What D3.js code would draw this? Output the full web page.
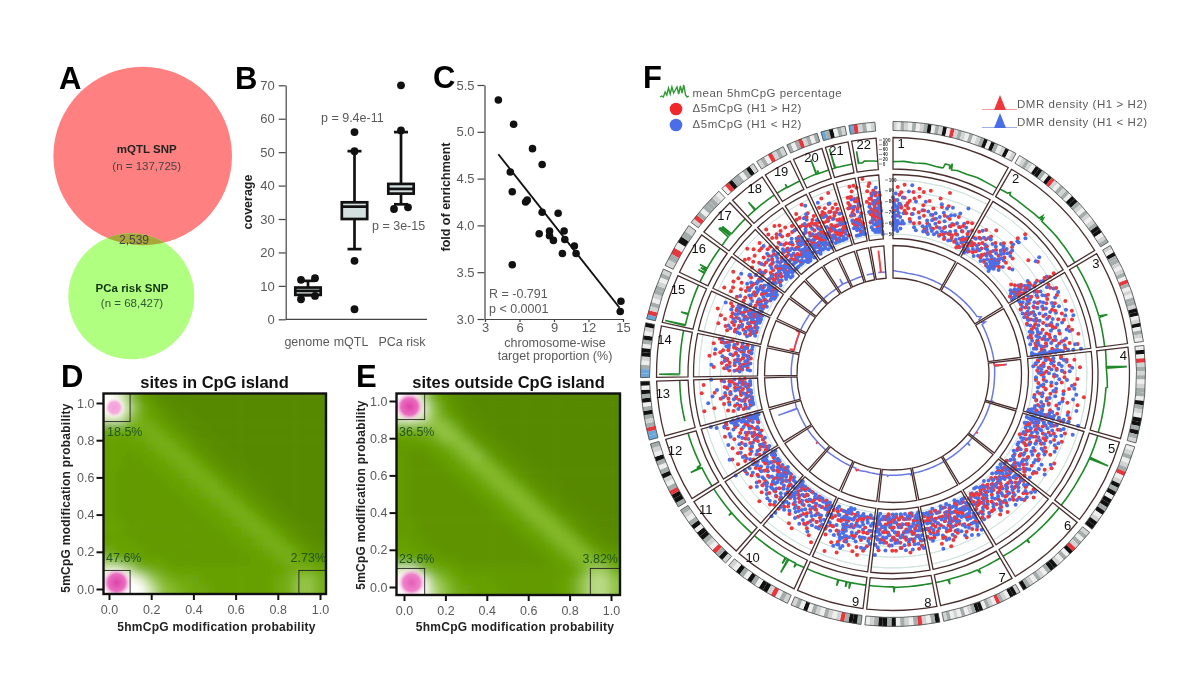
<!DOCTYPE html>
<html><head><meta charset="utf-8">
<style>html,body{margin:0;padding:0;background:#fff}svg{display:block;filter:blur(.4px);font-family:"Liberation Sans",Arial,sans-serif}</style>
<script src="https://cdnjs.cloudflare.com/ajax/libs/d3/7.8.5/d3.min.js"></script>
</head><body><svg id="c" width="1200" height="675"></svg>
<script>
// ---------- panel A ----------
const vennLabels=["mQTL SNP","(n = 137,725)","2,539","PCa risk SNP","(n = 68,427)"];
// ---------- panel B ----------
const boxCategories=["genome","mQTL","PCa risk"];
const boxQ1=[7.3,30,37.6], boxMedian=[8.5,33.7,39], boxQ3=[9.5,35,40.5], boxLow=[7.2,21,34.4], boxHigh=[11.5,50.3,56];
const boxOutliers=[[[11.8,-1],[12.3,1],[6,-1],[7,1]],[[56,0],[50.3,0],[17.5,0],[3,0]],[[70,0],[56.5,0],[33,-1],[33.5,1]]];
const boxTicks=[0,10,20,30,40,50,60,70];
// ---------- panel C ----------
const enrichX=[4.16,5.49,7.13,7.97,5.2,5.37,6.53,6.67,7.97,9.36,7.71,8.61,8.61,8.95,9.88,9.94,10.77,9.73,10.92,5.37,14.82,14.76];
const enrichY=[5.34,5.08,4.82,4.65,4.57,4.36,4.25,4.27,4.14,4.13,3.91,3.94,3.89,3.84,3.94,3.85,3.78,3.7,3.7,3.58,3.19,3.08];
const fitX=[4.16,14.7], fitY=[4.76,3.12];
// ---------- panels D / E : density levels, rows from 5mC = 1.0 down to 0.0 ----------
const densityD=[
[8,7,5,3,2,1,1,0,0,0,0,0,0,0,0,0,0,0,0,0,0],
[8,8,6,4,3,2,1,1,0,0,0,0,0,0,0,0,0,0,0,0,0],
[7,7,5,4,3,2.5,1.5,1,1,0,0,0,0,0,0,0,0,0,0,0,0],
[4,4,4,4,4,3,2.5,1.5,1,1,0,0,0,0,0,0,0,0,0,0,0],
[3,3,3,3.5,4,4,3,2.5,1.5,1,1,0,0,0,0,0,0,0,0,0,0],
[3,3,3,3,3.5,4,4,3,2,1.5,1,1,0,0,0,0,0,0,0,0,0],
[3,3,2.5,3,3,3.5,4,4,3,2,1.5,1,1,0,0,0,0,0,0,0,0],
[3,3,2.5,2.5,3,3,3.5,4,4,3,2,1.5,1,1,0,0,0,0,0,0,0],
[3,2.5,2.5,2.5,2.5,3,3,3.5,4,4,3,2,1.5,1,1,0,0,0,0,0,0],
[3,2.5,2.5,2.5,2.5,2.5,3,3,3.5,4,4,3,2,1.5,1,1,0,0,0,0,0],
[3,2.5,2.5,2.5,2.5,2.5,2.5,3,3,3.5,4,4,3,2,1.5,1,0,0,0,0,0],
[3,2.5,2.5,2.5,2.5,2.5,2.5,2.5,3,3,3.5,4,4,3,2,1.5,1,0,0,0,0],
[3,2.5,2.5,2.5,2.5,2.5,2.5,2.5,2.5,3,3,3.5,4,4,3,2,1.5,1,0,0,0],
[3,3,2.5,2.5,2.5,2.5,2.5,2.5,2.5,2.5,3,3,3.5,4,4,3,2,1.5,1,0,0],
[3,3,2.5,2.5,2.5,2.5,2.5,2.5,2.5,2.5,2.5,3,3,3.5,4,4,3,2,1.5,1,0],
[3,3,3,2.5,2.5,2.5,2.5,2.5,2.5,2.5,2.5,2.5,3,3,3.5,4,4,3,2,1.5,1],
[3.5,3,3,3,2.5,2.5,2.5,2.5,2.5,2.5,2.5,2.5,2.5,3,3,3.5,4,4,3,2,1.5],
[5,4,3.5,3,3,3,2.5,2.5,2.5,2.5,2.5,2.5,2.5,2.5,3,3,3.5,4,3.5,3,2.5],
[7,7,6,4.5,4,3.5,3,3,3,3,3,3,3,3,3,3,3,3.5,4,4,3.5],
[8,8,8,7,5.5,4.5,4,3.5,3.5,3,3,3,3,3,3,3,3.5,4,5,5,4],
[8,8,8,8,6.5,5,4.5,4,3.5,3.5,3,3,3,3,3,3,3.5,4,5,5,4]];
const densityE=[
[8,8,6,4,2.5,1.5,1,0,0,0,0,0,0,0,0,0,0,0,0,0,0],
[8,8,7,5,3,2,1,1,0,0,0,0,0,0,0,0,0,0,0,0,0],
[7,7,6.5,5,4,2.5,1.5,1,0.5,0,0,0,0,0,0,0,0,0,0,0,0],
[4.5,4.5,4.5,5,5,4,2,1.5,1,0.5,0,0,0,0,0,0,0,0,0,0,0],
[3,3,3.5,4,5,5,3.5,2,1.5,1,0.5,0,0,0,0,0,0,0,0,0,0],
[2.5,2.5,2.5,3,3.5,4.5,5,3.5,2,1.5,1,0.5,0,0,0,0,0,0,0,0,0],
[2.5,2,2,2.5,3,3.5,4.5,5,3.5,2,1.5,1,0.5,0,0,0,0,0,0,0,0],
[2.5,2,2,2,2.5,3,3.5,4.5,4.5,3.5,2,1.5,1,0.5,0,0,0,0,0,0,0],
[2.5,2,2,2,2,2.5,3,3.5,4.5,4.5,3.5,2,1.5,1,0.5,0,0,0,0,0,0],
[2.5,2,2,2,2,2,2.5,3,3.5,4.5,4.5,3.5,2,1.5,1,0.5,0,0,0,0,0],
[2.5,2,2,2,2,2,2,2.5,3,3.5,4.5,4.5,3.5,2,1.5,1,0.5,0,0,0,0],
[2.5,2,2,2,2,2,2,2,2.5,3,3.5,4.5,4.5,3.5,2,1.5,1,0.5,0,0,0],
[2.5,2,2,2,2,2,2,2,2,2.5,3,3.5,4.5,4.5,3.5,2,1.5,1,0.5,0,0],
[2.5,2.5,2,2,2,2,2,2,2,2,2.5,3,3.5,4.5,4.5,3.5,2,1.5,1,0.5,0],
[2.5,2.5,2,2,2,2,2,2,2,2,2,2.5,3,3.5,4.5,4.5,3.5,2,1.5,1,0.5],
[3,2.5,2.5,2,2,2,2,2,2,2,2,2,2.5,3,3.5,4.5,4.5,3.5,2,1.5,1],
[3,3,2.5,2.5,2,2,2,2,2,2,2,2,2,2.5,3,3.5,4.5,4.5,3.5,2.5,2],
[4,3.5,3,3,2.5,2.5,2,2,2,2,2,2,2,2,2.5,3,3.5,4.5,4.5,3.5,3],
[7,7,5,4,3.5,3,2.5,2.5,2.5,2.5,2.5,2.5,2.5,2.5,2.5,2.5,3,4,5.5,5.5,4],
[8,8,8,5.5,4.5,3.5,3,3,3,2.5,2.5,2.5,2.5,2.5,2.5,3,3.5,5,6,6,5],
[8,8,8,6,5,4,3.5,3,3,3,2.5,2.5,2.5,2.5,2.5,3,3.5,5,6,6,5]];
const levelStops=[0,1,2,3,4,5,6,7,8];
const levelColors=["#568800","#598c00","#5e9400","#66a004","#76af12","#93c344","#b9d984","#e6f2cf","#ffffff"];
// hot spots [x, y, radius, strength 0-1]
const spotsD=[[0.025,0.975,0.05,0.45],[0.036,0.034,0.075,1]];
const spotsE=[[0.026,0.97,0.075,1],[0.037,0.023,0.075,0.85]];
const pctD=["18.5%","47.6%","2.73%"], pctE=["36.5%","23.6%","3.82%"];
const probTicks=[0,0.2,0.4,0.6,0.8,1];
// ---------- panel F ----------
const chrNames=["1","2","3","4","5","6","7","8","9","10","11","12","13","14","15","16","17","18","19","20","21","22"];
const chrLengths=[249,243,198,191,181,171,159,146,141,136,135,134,115,107,102,90,81,78,59,63,48,51];
const chrBands=["lwglwgwlgkwglkwrlglwgwlgkwkgwlkwl","wlglwkkgwkrlwglgwkkglwglwlgkkwlg","lwkgglwlgwrgwlwgglkkwlkwglw","wkwrlglgwlggwkglwkkgkgl","wlgwlgrwlkgkwkkgkwlkk","lgwglrkwgwlkkgwlgwlgk","lkkwlgrwlgwkkglwgwlwgl","kgwlrgwlgwkgkkglw","gkkgrlwlgwlgwkwgl","lgwrlkkwgkwgkwl","lkgrwlgkkwkgwlg","gkkrgwlkgwgkwlg","bbrglgkgwkgkwk","bbgwlkkwgkwlk","brlgwlgglwgl","lgrwkgl","lrgwggglw","wrkggwgkl","lgwrlgl","gwgrlgwg","bgkwgl","brlgwl"];
const bandCodes=["w","l","g","k","r","b"], bandFills=["#eeeeee","#d2d4d4","#a4acac","#111111","#e8363c","#6aa6d8"];
const greenTrack=[
[0,10,10,12,20,9,30,12,40,8,46,8,47,10,48,27,52,27,53,10,54,36,55,9,60,14,70,12,80,15,90,13,100,12],
[0,15,8,17,10,26,11,15,30,13,40,15,46,15,47,32,48,17,49,28,50,13,70,15,100,13],
[0,14,30,15,64,16,65,52,66,16,100,14],
[0,16,20,14,21,100,22,14,45,20,46,14,100,14],
[0,16,29,16,30,100,31,16,60,14,100,14],
[0,14,60,14,61,30,62,14,100,12],
[0,12,34,14,35,28,36,24,37,14,80,12,81,32,82,12,100,12],
[0,12,60,14,61,35,62,12,100,12],
[0,12,25,12,26,38,27,12,31,12,32,34,33,12,45,12,46,38,47,12,100,12],
[0,12,14,14,15,30,16,12,29,12,30,75,31,12,34,12,35,40,36,12,100,12],
[0,12,48,12,49,28,50,12,100,12],
[0,12,36,12,37,62,38,16,40,30,41,12,100,14],
[18,14,60,15,100,14],
[5,14,6,100,7,14,60,15,100,16],
[4,14,5,100,6,14,30,14,31,45,32,14,100,16],
[0,16,25,16,26,45,27,16,32,16,33,40,34,30,35,16,38,18,39,50,40,16,100,16],
[0,16,30,18,31,68,35,68,36,18,38,18,39,62,42,62,43,16,100,18],
[0,18,28,18,29,60,30,40,31,18,100,20],
[0,20,44,20,45,34,46,18,100,18],
[0,16,52,18,53,82,54,16,60,16,61,30,62,16,100,16],
[0,16,14,16,15,100,16,40,18,18,40,16,100,16],
[10,14,12,14,13,65,14,16,30,14,40,20,100,14]];
const dmrBlue=[
[0,16,10,13,30,10,60,10,100,9],[0,9,50,9,90,10,95,22,97,10,100,9],[0,10,5,25,7,10,50,9,100,10],
[0,9,7,10,8,55,9,10,50,9,96,10,97,14,98,9,100,9],[0,9,50,9,85,9,100,9],[0,9,19,10,20,22,21,9,100,8],
[0,8,50,8,100,8],[0,8,4,12,5,8,75,8,80,12,81,8,100,8],[0,8,50,8,85,13,86,8,100,8],[0,8,50,8,100,9],
[0,9,50,9,100,10],[0,10,75,10,76,82,77,12,100,10],[0,10,50,10,100,10],[0,10,60,10,100,10],
[0,10,7,18,9,10,60,10,100,12],[0,12,50,12,100,12],[0,12,50,12,100,12],[0,12,50,12,100,12],
[0,12,48,14,50,35,52,14,100,12],[0,12,50,12,100,12],[30,12,60,12,100,12],[30,12,55,14,70,12,100,12]];
const dmrRed=[
[],[],[],[0,9,7,10,8,50,9,10],[85,9,86,16,87,9],[],[],[],[75,8,80,14,81,8],[],[39,9,40,17,41,9],[],[],[],
[5,10,8,26,10,10,95,12,98,28,100,12],[],[],[],[],[],[],[50,12,54,12,55,90,56,88,57,12,60,12]];
const rangeTicksGreen=[0,20,40,60,80,100], rangeTicksScatter=[50,60,70,80,90,100];
const red5mC=[
[1,62,2,78,3,70,5,88,6,66,8,75,9,84,10,72,12,90,13,80,14,70,15,74,16,68,18,72,19,78,21,64,22,85,24,80,25,72,27,61,29,82,31,70,33,86,35,76,38,68,40,88,42,58,44,63,47,75,48,70,50,67,53,60,56,78,58,66,60,90,62,72,64,57,66,63,69,71,71,55,74,60,76,68,78,75,80,58,83,62,85,56,87,70,89,66,91,53,93,60,95,75,97,62,98,57,99,70,4,66,7,82,11,60,17,76,23,68,28,88,34,62,37,72,41,80,46,56,52,84,57,62,63,80,68,58,73,66,79,60,84,68,90,74,94,54,96,66],
[0,54,1,58,2,66,3,62,4,72,5,60,6,55,8,68,10,76,12,64,14,58,16,70,18,62,20,80,22,66,24,56,26,60,28,72,30,64,32,55,34,68,36,76,38,60,40,58,41,66,42,72,43,62,44,86,45,56,46,78,47,92,48,68,52,60,56,72,62,65,70,80,78,85,80,58,84,60,88,64,90,56,92,70,94,60,95,76,96,66,97,82,98,72,99,86,7,62,11,56,15,66,19,74,23,58,33,62,37,54,39,70,42,80,45,64,47,58,49,74,54,66,90,62,93,52,95,66,97,58,98,90,99,62],
[2,60,4,72,6,66,8,82,9,56,11,70,13,62,15,78,17,58,19,68,21,84,23,64,25,74,27,56,29,60,31,70,33,88,35,62,37,76,39,58,41,68,43,54,45,72,47,82,49,60,51,66,53,78,55,56,57,70,59,88,61,64,63,74,65,60,67,84,69,54,71,68,73,76,75,62,77,58,79,90,81,70,83,64,85,56,87,74,89,82,91,60,93,68,95,78,97,58,99,66,3,82,7,62,12,86,16,54,20,76,26,66,30,80,34,56,40,78,44,62,48,90,52,58,56,82,60,72,64,54,68,66,72,86,76,68,80,56,84,78,88,62,92,88,96,72],
[1,62,3,74,5,56,7,66,9,84,11,60,13,72,15,58,17,80,19,64,21,70,23,55,25,62,27,76,30,58,33,68,36,86,39,60,42,74,45,56,48,66,51,80,54,62,57,70,60,92,63,58,66,76,69,64,72,88,75,56,78,72,81,62,84,82,87,68,90,74,93,58,96,66,99,78,4,64,8,78,12,54,16,68,20,88,24,74,28,60,34,76,38,54,44,84,50,60,55,76,61,66,67,54,71,80,77,66,83,58,89,62,92,84,95,52,98,70],
[3,70,6,60,9,78,12,66,15,56,18,72,21,62,24,84,27,58,30,70,33,64,35,60,37,56,39,66,41,52,43,74,46,62,49,80,52,58,55,68,58,86,61,62,64,74,67,56,70,66,73,82,76,60,79,72,82,56,85,66,88,76,91,60,94,70,97,54,2,64,5,74,8,56,11,84,14,62,17,76,20,54,23,68,26,78,29,56,32,72,36,82,40,70,44,58,48,76,54,60,60,72,66,86,72,60,78,64,84,78,90,68,96,62,99,72],
[0,62,2,74,3,84,5,56,7,68,8,78,10,62,12,88,13,70,15,56,17,66,18,80,20,60,22,72,24,54,25,84,27,66,29,74,31,58,33,62,35,70,37,78,39,54,41,64,43,72,45,58,47,66,49,76,51,62,53,56,55,70,57,82,59,64,61,54,63,72,65,60,67,68,69,80,71,56,73,66,75,62,77,74,79,58,81,68,83,56,85,62,87,76,89,64,91,54,93,70,95,60,97,66,99,56,1,70,4,60,6,78,9,72,11,56,14,82,16,62,19,72,21,54,23,66,26,58,28,80,30,68,32,56,34,76,36,64,38,60,40,72,44,66,48,60,52,74,56,58,60,76,64,56,68,62,72,74,76,58,80,70,84,64,88,56,92,64,96,74],
[2,62,5,74,8,56,11,68,14,60,17,78,20,64,23,56,26,72,29,62,32,82,35,66,38,56,41,70,44,60,46,74,48,64,50,78,52,58,54,68,56,72,59,60,62,84,65,56,68,66,71,76,74,60,77,70,80,54,83,64,86,74,89,58,92,68,95,60,98,72,1,70,4,60,7,66,10,80,13,56,16,68,19,74,22,62,25,54,28,78,31,60,34,70,37,64,40,56,43,76,45,66,47,58,49,62,51,70,53,54,55,80,58,64,61,72,64,60,67,76,70,54,73,64,76,80,79,66,82,58,85,70,88,60,91,74,94,66,97,56],
[1,66,4,56,7,74,10,62,13,80,16,58,19,68,22,52,25,72,28,60,31,76,34,64,37,56,40,70,43,60,46,78,49,56,52,66,55,54,58,72,61,62,64,80,67,58,70,68,73,52,76,74,79,60,82,66,85,56,88,72,91,64,94,58,97,76,99,62,3,60,6,78,9,58,12,70,15,64,18,54,21,74,24,66,27,56,30,82,33,60,36,72,39,66,42,54,45,62,48,74,51,60,54,68,57,80,60,56,63,70,66,62,69,76,72,58,75,66,78,54,81,72,84,62,87,56,90,80,93,60,96,70,98,56],
[2,60,6,72,10,56,14,82,18,64,22,74,26,58,30,68,34,84,38,60,42,72,46,56,50,66,54,78,58,62,62,88,66,58,70,74,74,64,78,82,82,56,86,70,90,62,94,78,98,58,12,68,24,86,44,80,64,70,84,90,4,66,8,78,16,56,20,68,28,80,32,58,36,72,40,64,48,60,52,76,56,56,60,66,66,80,68,62,72,56,76,72,80,64,88,58,92,70,96,64,99,74],
[2,62,6,74,10,56,14,68,18,84,22,60,26,72,30,64,34,56,38,78,42,66,46,58,50,72,54,86,58,62,62,54,66,70,70,60,74,78,78,64,82,56,86,74,90,60,94,68,98,80,8,88,28,80,48,60,4,60,12,58,16,72,20,54,24,66,32,76,36,62,40,54,44,70,52,60,56,76,60,66,64,84,68,58,72,66,76,54,80,70,84,62,88,56,92,76,96,58,99,66],
[3,74,7,60,11,82,15,66,19,56,23,72,27,62,31,86,35,58,39,70,43,64,47,54,51,76,55,60,59,68,63,84,67,56,71,66,75,74,79,60,83,70,87,56,91,64,95,80,99,70,1,66,5,80,9,62,13,74,17,58,21,68,25,54,29,76,33,62,37,56,41,80,45,66,49,60,53,72,57,56,61,76,65,62,69,54,73,68,77,58,81,78,85,64,89,72,93,54,97,62],
[4,64,8,76,12,56,16,70,20,60,24,84,28,66,32,56,36,74,40,62,44,80,48,58,52,68,54,54,56,60,58,66,60,76,64,58,68,70,72,82,76,62,80,54,84,72,88,60,92,66,96,78,99,60,2,70,6,58,10,82,14,62,18,74,22,56,26,68,30,78,34,60,38,66,42,56,46,72,50,62,62,64,66,56,70,60,74,68,78,54,82,64,86,78,90,56,94,70,98,62],
[15,62,20,74,24,56,28,68,32,84,36,60,40,72,44,54,48,66,52,78,56,58,60,70,64,62,68,82,72,56,76,66,80,74,84,60,88,90,92,68,96,76,99,58,30,92,70,92,16,70,22,60,26,64,34,56,38,76,42,64,46,58,50,72,54,62,58,74,62,56,66,70,70,60,74,64,78,72,82,56,86,66,90,60,94,70,98,62],
[16,70,20,60,24,82,28,56,32,66,36,76,40,58,44,72,48,62,52,86,56,54,60,68,64,78,68,60,72,72,76,56,80,66,84,84,88,62,92,74,96,58,99,70,18,64,22,74,26,62,30,72,34,60,38,70,42,56,46,66,50,74,54,60,58,82,62,56,66,66,70,76,74,62,78,56,82,68,86,62,90,78,94,66,98,80],
[18,76,22,62,26,70,30,84,34,58,38,72,42,62,46,80,50,56,54,68,58,76,62,60,66,88,70,64,74,54,78,70,82,60,86,78,90,66,94,56,98,72,20,70,24,58,28,78,32,64,36,54,40,68,44,74,48,60,52,84,56,62,60,72,64,58,68,76,72,66,76,56,80,74,84,68,88,60,92,80,96,64],
[3,66,8,78,13,58,18,72,23,62,28,84,33,60,38,74,43,56,48,68,53,80,58,62,63,72,68,90,73,56,78,66,83,76,88,60,93,70,98,56,16,90,44,86,5,72,10,62,15,84,20,56,25,68,30,60,35,78,40,66,45,58,50,74,55,62,60,84,65,60,70,72,75,54,80,64,85,78,90,56,95,68,99,74],
[4,70,12,60,20,82,28,66,36,74,44,58,52,88,60,64,68,72,76,60,84,80,92,56,98,68,8,88,24,56,40,92,56,70,72,84,2,80,6,64,10,74,16,62,18,86,22,70,26,60,30,78,34,62,38,84,42,66,46,74,50,60,54,78,58,66,62,84,66,62,70,76,74,58,78,68,80,88,86,62,88,74,90,66,94,60,96,80],
[5,70,12,84,20,60,28,74,36,56,44,90,52,66,60,78,68,56,76,70,84,60,92,82,98,64,16,92,48,72,72,62,88,54,2,76,8,66,10,88,14,62,18,78,22,68,24,82,26,60,30,70,32,84,34,62,38,74,40,60,42,80,46,62,50,84,54,70,56,60,58,88,62,66,64,78,66,62,70,84,74,68,78,60,80,78,82,70,86,62,90,72,94,60,96,78],
[6,78,14,62,22,88,30,70,38,58,46,82,54,66,62,92,70,60,78,74,86,56,94,70,18,54,50,74,82,66,2,66,10,84,12,72,16,64,20,78,24,62,26,84,32,64,34,76,36,68,42,66,44,60,48,76,52,64,56,82,58,70,60,62,64,76,66,60,68,84,72,66,74,78,76,62,80,72,84,60,88,80,90,66,92,62,96,74,98,64],
[4,62,12,84,20,72,28,56,36,90,44,66,52,78,60,58,68,70,76,60,84,82,92,68,98,56,30,74,70,92,6,72,8,60,10,78,16,66,18,80,22,64,24,78,26,60,32,68,34,82,38,62,40,74,42,60,46,78,48,66,50,60,54,72,56,84,58,66,62,74,64,60,66,80,72,66,74,76,78,62,80,70,82,60,86,78,88,64,90,74,94,62,96,70],
[30,70,38,84,46,60,54,74,62,92,70,56,78,66,86,80,94,62,98,90,26,76,32,64,34,80,36,66,40,78,42,62,44,72,48,84,50,62,52,70,56,64,58,84,60,66,64,76,66,62,68,88,72,66,74,80,76,62,80,74,82,64,84,92,88,76,90,62,92,82,96,70],
[30,62,40,80,50,92,60,70,70,58,76,84,82,64,88,72,94,60,98,82,20,96,24,78,28,62,34,86,36,68,38,76,42,72,44,90,46,66,48,80,52,68,54,84,56,64,58,78,62,66,64,74,66,86,68,62,72,70,74,82,78,66,80,76,84,60,86,68,90,78,92,62,96,72,98,60]];
const blue5mC=[
[0,58,0,65,0,72,0,80,1,55,1,68,1,60,2,64,2,74,2,57,3,83,3,62,3,66,4,56,4,60,4,73,5,70,5,58,5,78,6,62,6,54,7,68,7,75,8,60,9,65,10,56,11,80,12,62,14,60,17,85,20,90,24,68,28,58,33,66,37,79,39,60,41,56,43,65,45,58,46,70,47,62,48,55,49,66,51,72,52,58,54,64,55,80,57,70,59,58,61,62,62,78,64,68,66,72,68,80,70,60,72,66,73,75,75,62,77,55,79,70,81,64,84,84,86,58,88,66,90,60,92,55,94,58,96,68,99,56,1,76,3,58,6,72,9,74,13,68,16,74,22,62,26,78,31,56,35,72,42,72,44,60,50,60,53,68,56,56,60,74,63,56,65,60,67,64,69,74,71,56,74,68,76,60,78,78,80,56,83,68,85,62,87,72,89,56,91,70,93,62,95,54,97,60,98,64],
[0,60,1,52,3,56,5,66,7,74,9,58,11,62,13,70,15,54,17,60,19,66,21,72,25,64,27,54,29,60,31,70,33,58,35,62,36,55,37,66,38,58,39,70,40,62,41,54,41,60,42,56,42,68,43,58,43,74,44,64,44,54,45,60,45,80,46,66,46,58,47,72,47,62,48,84,48,56,49,76,50,90,55,62,66,66,75,88,76,84,86,55,88,58,90,54,91,60,92,66,93,52,93,62,94,56,95,70,95,58,96,64,96,74,97,54,97,60,98,68,98,78,99,58,99,64,99,72,2,62,4,54,6,60,10,68,14,60,18,72,20,56,22,64,24,58,26,70,28,62,30,56,32,66,34,74,37,60,38,74,40,54,40,72,44,70,45,52,46,84,47,56,49,60,50,66,52,72,54,58,87,62,89,70,90,64,92,58,94,68,96,56,97,84,98,52,99,80],
[1,56,3,64,5,80,7,58,8,70,10,62,12,74,14,56,16,66,18,86,20,60,22,72,24,54,26,66,28,78,30,58,32,72,34,62,36,82,38,56,40,70,42,60,44,86,46,64,48,56,50,74,52,62,54,90,56,68,58,54,60,76,62,60,66,70,68,58,70,82,72,64,74,54,76,72,78,66,80,58,82,80,84,68,86,60,88,54,90,72,92,86,94,62,96,52,97,60,97,66,97,72,98,54,98,58,98,62,98,68,98,74,98,80,99,52,99,56,99,60,99,64,99,70,99,76,99,84,99,90,2,70,4,56,6,74,9,64,11,84,13,60,15,76,17,54,19,70,21,64,23,82,25,58,27,70,29,62,31,54,33,78,35,66,37,56,39,74,41,62,43,78,45,54,47,70,49,60,51,84,53,58,55,72,57,60,59,80,61,56,63,72,65,62,67,52,69,76,71,60,73,84,75,58,77,64,79,52,81,72,83,58,85,76,87,64,89,56,91,78,93,60,95,52,96,70],
[2,58,4,68,6,62,8,76,10,54,12,66,14,72,16,60,18,56,20,82,22,66,24,74,26,58,28,64,32,70,35,54,38,78,41,62,44,70,47,60,50,84,53,56,56,68,59,76,62,60,65,84,68,66,71,54,74,74,77,60,80,88,83,62,86,56,89,70,91,62,93,54,94,72,95,60,96,52,96,80,97,56,97,64,97,70,98,52,98,60,98,68,98,76,98,84,99,54,99,58,99,62,99,66,99,72,99,80,99,92,3,62,5,74,7,56,9,68,11,78,13,60,15,52,17,74,19,64,21,58,23,70,25,80,27,56,30,68,34,60,37,72,40,54,43,66,46,82,49,58,52,70,55,62,58,86,61,56,64,70,67,60,70,76,73,64,76,56,79,66,82,74,85,60,88,82,90,56,92,68,94,58,95,76,96,62,96,68,97,52,97,84],
[1,56,2,62,2,70,3,76,4,58,5,66,5,82,6,54,7,72,8,62,9,90,11,58,13,74,16,60,17,52,19,66,20,78,22,58,23,70,25,54,26,64,28,82,29,60,31,76,34,54,36,68,38,72,40,60,42,82,44,66,45,56,47,72,50,62,53,76,56,54,59,66,62,84,65,58,68,72,71,62,74,54,77,78,80,64,83,56,86,72,89,62,92,56,95,66,98,60,3,60,4,72,5,52,6,66,7,56,8,80,9,68,10,60,12,70,14,62,15,54,16,82,18,64,19,56,21,74,24,62,27,72,30,56,32,66,33,80,35,62,37,54,39,70,41,60,43,66,46,54,48,62,49,74,51,56,52,66,54,60,57,72,60,54,61,62,63,68,64,56,66,74,67,62,69,78,70,56,72,66,73,72,75,60,76,66,78,56,79,84,81,68,82,56,84,64,85,76,87,58,88,70,90,64,91,56,93,70,94,60,96,76,97,54,99,64],
[0,54,1,60,1,68,2,78,3,58,4,66,4,86,5,72,6,52,6,62,7,76,8,58,9,84,9,66,10,54,11,72,12,60,13,80,14,64,15,52,16,74,17,58,18,68,19,84,20,56,21,76,22,62,23,70,24,60,25,54,26,72,27,82,28,58,29,66,30,76,31,52,32,68,33,80,34,60,36,72,38,56,40,82,42,60,44,68,46,54,48,74,50,60,52,68,54,52,56,62,58,74,60,56,62,66,64,78,66,54,68,62,70,72,72,60,74,52,76,68,78,64,80,56,82,74,84,60,86,68,88,54,90,62,92,72,94,56,96,62,98,70,35,60,37,66,39,56,41,76,43,62,45,70,47,58,49,66,51,78,53,60,55,72,57,56,59,68,61,60,63,76,65,58,67,70,69,54,71,64,73,58,75,74,77,62,79,52,81,66,83,60,85,76,87,58,89,70,91,54,93,64,95,76,97,58,99,66,18,54,14,72,8,66,2,62,3,72,24,84,30,60,34,72],
[0,60,1,68,1,76,2,54,3,82,3,64,4,58,5,70,6,62,7,78,8,66,9,54,10,74,11,60,12,84,13,66,15,56,17,70,19,60,21,76,23,52,25,66,27,58,29,72,31,64,33,80,35,56,37,68,39,60,41,74,43,52,45,64,47,70,49,58,51,66,53,76,55,62,57,54,60,70,63,62,66,78,69,56,72,64,75,52,78,72,81,60,84,68,87,56,90,76,93,62,96,54,99,66,2,72,4,64,5,76,6,54,8,74,9,62,10,56,11,70,12,62,14,74,16,62,18,54,20,66,22,82,24,60,26,74,28,64,30,56,32,68,34,60,36,76,38,54,40,66,42,58,44,74,46,62,48,54,50,68,52,60,54,72,56,52,58,64,61,78,62,56,64,68,67,60,70,74,71,54,73,68,74,60,76,84,77,62,79,56,80,72,82,64,83,54,85,72,86,62,88,66,89,54,91,70,92,60,94,74,95,56,97,66,98,60],
[0,58,0,66,1,74,2,52,2,62,3,70,3,56,4,80,5,64,6,54,7,60,8,72,9,66,11,56,14,70,17,60,20,76,23,54,26,64,29,72,32,56,35,66,38,80,41,60,44,52,47,70,50,62,53,74,56,58,59,66,62,54,65,76,68,60,71,68,74,56,77,80,80,62,83,70,85,54,87,62,88,74,89,56,90,68,91,60,92,78,93,52,93,66,94,72,95,58,96,64,96,84,97,54,97,70,98,60,98,76,99,56,99,66,1,62,4,66,5,74,6,58,7,78,8,54,10,70,12,62,13,76,15,58,16,66,18,52,19,72,21,62,22,68,24,56,25,80,27,62,28,54,30,66,31,74,33,60,34,52,36,70,37,56,39,66,40,76,42,60,43,68,45,54,46,62,48,78,49,56,51,68,52,60,54,72,55,52,57,66,58,74,60,58,61,70,63,52,64,64,66,72,67,56,69,62,70,76,72,54,73,66,75,60,76,70,78,56,79,64,81,74,82,54,84,66],
[1,70,4,56,8,66,12,80,16,58,20,72,24,62,28,54,32,76,36,64,40,56,44,70,48,60,50,78,52,52,54,66,56,74,57,60,58,84,59,68,60,56,60,76,61,64,62,54,62,72,63,82,64,60,64,68,65,76,66,56,67,66,68,74,70,60,72,84,76,56,80,68,84,60,88,74,92,56,96,68,99,62,2,60,3,76,6,62,7,74,10,54,11,68,14,60,15,72,18,56,19,80,22,66,23,56,26,72,27,60,30,64,31,56,34,70,35,58,38,74,39,62,42,54,43,66,46,58,47,74,49,64,51,60,53,74,55,56,55,82,57,70,58,54,59,60,60,66,61,72,61,52,62,62,63,56,63,70,64,78,65,54,66,66,66,82,67,60,69,56,71,72,74,62,78,76,82,60,86,70,90,54,94,64,98,72],
[1,56,4,68,8,60,12,76,16,56,20,66,24,82,28,60,32,70,36,54,40,64,44,76,48,56,52,68,56,60,60,78,64,66,68,54,72,72,76,60,80,68,84,54,88,78,92,62,94,56,95,72,96,52,96,64,97,58,97,78,98,54,98,68,98,84,99,52,99,60,99,64,99,74,99,88,2,64,3,72,5,58,6,76,9,54,10,70,13,60,14,66,17,72,18,54,21,60,22,76,25,56,26,68,29,74,30,54,33,64,34,78,37,60,38,68,41,56,42,72,45,60,46,80,49,64,50,54,53,74,54,60,57,70,58,54,61,62,62,72,65,58,66,74,69,64,70,54,73,60,74,70,77,56,78,76,81,62,82,54,85,66,86,58,89,72,90,64,91,54,93,66,94,76],
[1,60,5,72,9,56,13,66,17,80,21,60,25,70,28,54,30,62,32,72,34,58,35,68,36,54,37,64,38,76,40,60,42,68,44,52,46,62,48,72,50,56,52,66,56,80,60,58,64,72,68,62,72,54,76,70,80,60,84,76,88,54,90,62,92,70,94,56,95,64,96,76,97,52,97,60,98,68,98,80,99,54,99,62,99,72,99,88,2,68,3,56,6,64,7,78,10,60,11,70,14,54,15,74,18,64,19,56,22,72,23,60,24,80,26,64,27,72,29,58,31,78,33,56,34,66,35,60,36,72,37,56,38,62,39,54,40,68,41,58,43,74,45,56,47,66,49,60,51,74,53,58,55,68,57,54,59,72,61,62,63,78,65,56,67,66,69,60,71,74,73,56,75,64,77,54,79,70,81,62,83,56,85,68,87,62,89,80,91,54,93,62],
[2,60,6,72,10,54,14,64,18,76,22,58,26,86,30,66,34,54,38,70,42,60,46,74,50,56,54,82,58,62,62,72,66,56,70,62,74,78,78,66,82,58,85,54,87,62,89,72,90,56,91,66,92,80,93,54,93,60,94,70,94,86,95,56,95,64,96,52,96,74,97,60,97,68,98,54,98,64,98,78,99,52,99,58,99,68,99,72,99,90,4,56,8,66,12,74,16,58,20,68,24,60,28,76,32,56,36,64,40,70,44,58,48,66,52,60,56,70,60,56,64,66,68,78,72,60,76,54,80,74,84,62,86,70,88,54,89,64,90,80,91,58,92,72,93,66,94,60,95,78,96,58,97,54,98,72],
[14,58,18,66,22,54,26,60,30,56,34,72,38,62,42,54,46,68,50,58,54,76,58,60,62,70,66,56,70,64,74,80,78,58,82,70,86,54,90,62,94,74,98,66,99,84,46,88,60,84,16,60,20,56,24,64,28,54,32,66,36,54,40,60,44,58,48,56,52,66,56,54,60,62,64,54,68,66,72,56,76,62,80,54,84,64,88,58,92,54,96,60,85,70,75,72,65,74],
[14,62,18,54,22,72,26,60,30,84,34,56,38,66,42,74,46,58,50,64,54,76,58,56,62,70,66,60,70,82,74,54,78,64,82,74,86,58,90,68,94,54,98,62,99,78,86,72,80,60,16,66,20,56,24,62,28,70,32,58,36,62,40,54,44,64,48,72,52,56,56,60,60,64,64,58,68,66,72,54,76,60,78,72,80,66,84,54,86,68,88,60,92,58,96,72,94,78,90,76],
[16,60,20,68,24,54,28,62,32,76,36,56,40,66,44,58,48,72,52,54,56,62,60,70,64,56,66,64,68,74,70,54,72,60,74,68,76,78,78,56,80,62,82,72,84,54,86,64,88,84,90,58,92,68,94,74,96,54,98,62,99,70,84,58,76,60,18,66,22,58,26,74,30,56,34,68,38,60,42,54,46,66,50,60,54,74,58,56,62,66,65,60,67,58,69,66,71,72,73,56,75,62,77,70,79,60,81,54,83,64,85,74,87,56,89,62,91,72,93,60,95,56,97,68,99,58],
[1,56,5,66,10,58,15,76,20,60,25,54,30,70,35,62,40,56,45,72,50,60,55,66,58,54,60,76,62,58,64,68,66,52,68,62,70,74,72,56,74,66,76,84,78,60,80,54,82,70,84,58,86,64,88,78,90,54,92,60,94,68,96,54,98,74,99,62,3,62,7,72,12,56,18,66,22,58,28,62,32,56,38,68,42,58,48,66,52,54,56,72,59,62,61,54,63,66,65,58,67,72,69,56,71,64,73,52,75,60,77,70,79,56,81,64,83,52,85,70,87,60,89,54,91,70,93,56,95,62,97,58,99,70],
[2,60,8,72,14,54,20,64,26,58,32,76,38,60,44,68,50,54,54,62,58,74,62,56,64,66,68,52,70,60,72,78,74,56,76,68,78,52,80,62,82,84,84,56,86,70,88,60,90,54,92,66,94,76,96,58,98,54,99,64,66,58,4,64,10,58,16,70,22,56,28,64,34,56,40,62,46,58,48,70,52,60,56,56,60,66,61,56,63,70,65,54,67,62,69,72,71,56,73,64,75,60,77,74,79,56,81,66,83,56,85,62,87,54,89,72,91,58,93,62,95,56,97,66,98,60,99,72],
[3,62,8,54,12,70,16,58,20,76,24,64,28,54,32,68,36,60,40,82,44,56,48,66,52,54,56,72,60,58,62,64,64,74,68,52,70,60,72,56,74,68,76,62,78,54,80,72,82,58,84,66,86,54,88,62,90,78,92,56,94,68,96,52,97,60,98,70,99,56,1,54,5,66,7,58,10,62,14,72,15,54,18,66,22,58,26,70,30,58,34,64,38,54,42,68,46,60,50,72,54,58,58,66,60,52,63,58,65,66,66,54,67,62,69,58,71,66,73,52,75,58,77,66,79,60,81,54,83,70,85,60,87,56,89,68,91,58,93,64,95,56,97,66],
[3,56,8,66,12,54,16,72,20,60,24,52,28,64,32,78,36,56,40,68,44,54,48,60,52,72,56,58,60,84,64,54,68,66,72,58,76,52,80,70,84,62,88,56,92,76,96,60,99,52,42,82,74,90,1,62,5,72,7,58,10,60,14,54,18,62,22,58,26,68,30,54,34,60,38,64,42,56,46,64,50,54,54,66,58,64,62,58,66,56,70,62,74,56,78,64,82,58,86,68,90,60,94,54,98,64,22,74,30,76,50,80,70,74],
[2,56,8,68,14,58,20,60,26,76,32,54,38,64,44,56,50,72,56,54,62,62,68,56,74,66,80,54,86,74,92,60,98,66,16,88,60,84,1,62,5,60,11,64,17,54,23,66,29,58,35,66,41,54,47,62,53,58,59,66,65,54,71,60,77,68,83,58,89,66,95,56,12,76,28,72,48,78,66,76,84,78],
[28,60,34,54,40,70,46,58,52,64,58,76,64,54,70,62,76,72,82,56,88,68,94,54,98,76,30,66,36,60,42,64,48,54,54,60,60,66,66,58,72,56,78,64,84,60,90,62,96,58,38,76,56,82,74,82,92,78,86,54],
[28,70,36,56,44,64,50,54,56,76,60,60,64,84,66,54,70,68,72,78,74,56,78,62,80,88,82,54,84,72,86,60,88,80,90,56,92,66,94,74,96,54,98,62,99,70,99,52,30,58,34,74,38,62,42,56,46,70,48,60,52,64,54,82,58,68,62,56,63,72,65,62,67,76,68,58,71,62,73,72,75,66,76,54,77,84,79,70,81,60,83,66,85,78,87,56,89,62,91,74,93,54,95,64,95,84,97,58,98,76]];
const legendGreenWave=[0,1,0,5,2,9,3,10,4,7,10,3,11,4,12,2,0,1];

// ---------- helpers ----------
const svg=d3.select("#c");
const INK="#5a5a5a", DK="#111";
const txt=(s,x,y,o={})=>{const t=svg.append("text").attr("x",x).attr("y",y).text(s)
  .attr("fill",o.fill||INK).attr("font-size",o.size||12).attr("font-weight",o.bold?"bold":"normal")
  .attr("text-anchor",o.anchor||"start");
  if(o.ls)t.attr("letter-spacing",o.ls);
  if(o.rot)t.attr("transform",`rotate(${o.rot},${x},${y})`);return t;};
const pairs=a=>d3.range(0,a.length,2).map(i=>[a[i],a[i+1]]);
[["A",59,89],["B",235,89],["C",433,88],["D",61,387],["E",356,387],["F",643,88]].forEach(p=>txt(p[0],p[1],p[2],{fill:"#000",size:31,bold:true}));
const styleAxis=(g,o={})=>{g.select(".domain").attr("stroke",o.c||"#444").attr("stroke-width",o.w||1.2);
  g.selectAll(".tick line").attr("stroke",o.c||"#444").attr("stroke-width",o.w||1.2);
  g.selectAll(".tick text").attr("fill",INK).attr("font-size",o.fs||13).attr("font-family","Liberation Sans");};

// ---------- A ----------
const c1={x:142.7,y:156,r:89.3}, c2={x:131.3,y:296.3,r:63};
svg.append("defs").append("clipPath").attr("id","lap").append("circle").attr("cx",c1.x).attr("cy",c1.y).attr("r",c1.r);
svg.append("circle").attr("cx",c1.x).attr("cy",c1.y).attr("r",c1.r).attr("fill","#ff8080");
svg.append("circle").attr("cx",c2.x).attr("cy",c2.y).attr("r",c2.r).attr("fill","#b0ff80");
svg.append("circle").attr("cx",c2.x).attr("cy",c2.y).attr("r",c2.r).attr("fill","#a9a63a").attr("clip-path","url(#lap)");
txt(vennLabels[0],146.7,153,{anchor:"middle",bold:true,fill:"#222",size:11.5});
txt(vennLabels[1],146.7,170,{anchor:"middle",fill:"#444",size:11.5});
txt(vennLabels[2],134,244,{anchor:"middle",fill:"#444",size:12});
txt(vennLabels[3],132,292,{anchor:"middle",bold:true,fill:"#113311",size:11.5});
txt(vennLabels[4],132,307,{anchor:"middle",fill:"#335533",size:11.5});

// ---------- B ----------
const yB=d3.scaleLinear([0,70],[319.3,85.3]);
const xB=d3.scalePoint(boxCategories,[308,401]);
svg.append("line").attr("x1",285.7).attr("x2",427).attr("y1",yB(0)).attr("y2",yB(0)).attr("stroke","#444").attr("stroke-width",1.2);
styleAxis(svg.append("g").attr("transform","translate(285.7,0)").call(d3.axisLeft(yB).tickValues(boxTicks).tickSize(7).tickPadding(4).tickSizeOuter(0)));
boxCategories.forEach((c,i)=>{const x=xB(c),hw=12.7,cw=7;
  const g=svg.append("g").attr("stroke","#111").attr("stroke-width",2.7);
  g.append("line").attr("x1",x).attr("x2",x).attr("y1",yB(boxLow[i])).attr("y2",yB(boxHigh[i]));
  [boxLow[i],boxHigh[i]].forEach(v=>g.append("line").attr("x1",x-cw).attr("x2",x+cw).attr("y1",yB(v)).attr("y2",yB(v)));
  g.append("rect").attr("x",x-hw).attr("width",2*hw).attr("y",yB(boxQ3[i])).attr("height",yB(boxQ1[i])-yB(boxQ3[i])).attr("fill","#d3e0df");
  g.append("line").attr("x1",x-hw).attr("x2",x+hw).attr("y1",yB(boxMedian[i])).attr("y2",yB(boxMedian[i]));
  boxOutliers[i].forEach(o=>svg.append("circle").attr("cx",x+o[1]*7).attr("cy",yB(o[0])).attr("r",3.9).attr("fill","#111"));
  txt(c,[307,351,402][i],346,{anchor:"middle",size:12.5});
});
txt("coverage",252,202,{anchor:"middle",bold:true,fill:"#222",size:12.5,rot:-90});
txt("p = 9.4e-11",321,122,{size:12.5});
txt("p = 3e-15",372,230,{size:12.5});

// ---------- C ----------
const xC=d3.scaleLinear([3,15],[485,623]), yC=d3.scaleLinear([3,5.5],[319,85]);
styleAxis(svg.append("g").attr("transform","translate(484.5,0)").call(d3.axisLeft(yC).tickValues([3,3.5,4,4.5,5,5.5]).tickFormat(d3.format(".1f")).tickSize(7).tickPadding(3).tickSizeOuter(0)));
styleAxis(svg.append("g").attr("transform","translate(0,319)").call(d3.axisBottom(xC).tickValues([3,6,9,12,15]).tickSize(3).tickPadding(1).tickSizeOuter(0)));
enrichX.forEach((x,i)=>svg.append("circle").attr("cx",xC(x)).attr("cy",yC(enrichY[i])).attr("r",3.8).attr("fill","#111"));
svg.append("line").attr("x1",xC(fitX[0])).attr("x2",xC(fitX[1])).attr("y1",yC(fitY[0])).attr("y2",yC(fitY[1])).attr("stroke","#111").attr("stroke-width",1.9);
txt("fold of enrichment",450,197,{anchor:"middle",bold:true,fill:"#222",size:12.5,rot:-90});
txt("R = -0.791",489,298,{size:12.5});
txt("p < 0.0001",489,313,{size:12.5});
txt("chromosome-wise",555,347,{anchor:"middle",size:12.5});
txt("target proportion (%)",555,360,{anchor:"middle",size:12.5});

// ---------- D / E ----------
const color=d3.scaleLinear(levelStops,levelColors);
const defs=svg.select("defs");
defs.append("filter").attr("id","soft").attr("x","-10%").attr("y","-10%").attr("width","120%").attr("height","120%")
  .append("feGaussianBlur").attr("stdDeviation",5);
const pink=d3.scaleLinear([0,0.5,1],["#f8d0ee","#f49ad8","#df42a8"]);
function heat(id,m,spots,P,pct,title,titleX,yTitleX,lab){
  const x=d3.scaleLinear([0,1],[P.x0,P.x1]), y=d3.scaleLinear([0,1],[P.y0,P.y1]);
  defs.append("clipPath").attr("id","clip"+id).append("rect").attr("x",P.l).attr("y",P.t).attr("width",P.r-P.l).attr("height",P.b-P.t);
  const clip=svg.append("g").attr("clip-path",`url(#clip${id})`);
  const g=clip.append("g").attr("filter","url(#soft)");
  const n=m.length, cw=(P.r-P.l)/n, ch=(P.b-P.t)/n, pad=24;
  m.forEach((row,r)=>row.forEach((v,c)=>{
    const x0=P.l+c*cw-(c==0?pad:0), y0=P.t+r*ch-(r==0?pad:0);
    g.append("rect").attr("x",x0).attr("y",y0)
      .attr("width",cw+.6+(c==0||c==n-1?pad:0)).attr("height",ch+.6+(r==0||r==n-1?pad:0)).attr("fill",color(v));
  }));
  spots.forEach((s,i)=>{const gid=`sp${id}${i}`;
    const gr=defs.append("radialGradient").attr("id",gid);
    gr.append("stop").attr("offset","0%").attr("stop-color",pink(s[3]));
    gr.append("stop").attr("offset","55%").attr("stop-color",pink(s[3]*.75));
    gr.append("stop").attr("offset","100%").attr("stop-color","#fff").attr("stop-opacity",0);
    clip.append("circle").attr("cx",x(s[0])).attr("cy",y(s[1])).attr("r",Math.abs(x(s[2])-x(0))).attr("fill",`url(#${gid})`);
  });
  [[-.2,.1,.9,1.2],[-.2,.1,-.2,.1],[.9,1.2,-.2,.1]].forEach(b=>
    clip.append("rect").attr("x",x(b[0])).attr("width",x(b[1])-x(b[0])).attr("y",y(b[3])).attr("height",y(b[2])-y(b[3]))
      .attr("fill","none").attr("stroke","#222").attr("stroke-width",.9));
  svg.append("rect").attr("x",P.l).attr("y",P.t).attr("width",P.r-P.l).attr("height",P.b-P.t).attr("fill","none").attr("stroke","#111").attr("stroke-width",2.4);
  const ax=svg.append("g").attr("transform",`translate(0,${P.b})`).call(d3.axisBottom(x).tickValues(probTicks).tickFormat(d3.format(".1f")).tickSize(6).tickPadding(5).tickSizeOuter(0));
  const ay=svg.append("g").attr("transform",`translate(${P.l},0)`).call(d3.axisLeft(y).tickValues(probTicks).tickFormat(d3.format(".1f")).tickSize(7).tickPadding(2).tickSizeOuter(0));
  [ax,ay].forEach(a=>{a.select(".domain").remove();a.selectAll(".tick line").attr("stroke","#111").attr("stroke-width",2);
    a.selectAll(".tick text").attr("fill",INK).attr("font-size",12.5).attr("font-family","Liberation Sans");});
  txt(title,titleX,388,{anchor:"middle",bold:true,fill:"#111",size:16.5});
  txt("5hmCpG modification probability",lab.xt,631,{anchor:"middle",bold:true,fill:"#222",size:12,ls:.3});
  txt("5mCpG modification probability",yTitleX,lab.yt,{anchor:"middle",bold:true,fill:"#222",size:12,ls:.25,rot:-90});
  pct.forEach((p,i)=>txt(p,lab.p[i][0],lab.p[i][1],{fill:"#21561f",size:12.5}));
}
heat("D",densityD,spotsD,{x0:109,x1:320,y0:589,y1:403,l:103.5,r:326,t:393.5,b:594},pctD,"sites in CpG island",214.5,70,{xt:216.5,yt:498,p:[[107,436],[106,562],[290.5,562]]});
heat("E",densityE,spotsE,{x0:404,x1:611,y0:587,y1:401,l:396.5,r:620,t:393.5,b:595},pctE,"sites outside CpG island",508.5,365,{xt:515,yt:495,p:[[399,436],[399,563],[582.5,563]]});

// ---------- F ----------
const cx=893, cy=374, G=svg.append("g").attr("transform",`translate(${cx},${cy})`);
const gap=0.9, total=355.9, k=(total-gap*21)/d3.sum(chrLengths);
let cur=0; const chrs=chrNames.map((n,i)=>{const a0=cur,a1=cur+chrLengths[i]*k;cur=a1+gap;return {n,i,a0,a1};});
const rad=d=>d*Math.PI/180;
const rScatter=d3.scaleLinear([50,100],[140,194]), rGreen=d3.scaleLinear([0,100],[210,234]), rDmr=d3.scaleLinear([0,100],[99,127]);
// the dot arrays were noted on a compressed reading scale; this calibrates them to the track's percent axis
const readingToPercent=d3.scaleLinear([50,90],[48,96]);
const arc=d3.arc();
const RINGS={ideo:[243.5,252.5],green:[205,236.5],scat:[135.5,199.5],dmr:[96,128.5]};
const bandColor=d3.scaleOrdinal(bandCodes,bandFills);
const ang=(c,t)=>rad(c.a0+(c.a1-c.a0)*t/100);
chrs.forEach(c=>{
  const s=chrBands[c.i], w=(c.a1-c.a0)/s.length;
  s.split("").forEach((b,j)=>G.append("path").attr("d",arc({innerRadius:RINGS.ideo[0],outerRadius:RINGS.ideo[1],startAngle:rad(c.a0+j*w),endAngle:rad(c.a0+(j+1)*w)})).attr("fill",bandColor(b)));
  G.append("path").attr("d",arc({innerRadius:RINGS.ideo[0],outerRadius:RINGS.ideo[1],startAngle:rad(c.a0),endAngle:rad(c.a1)})).attr("fill","none").attr("stroke","#444").attr("stroke-width",.8);
  rangeTicksScatter.forEach(v=>G.append("path").attr("d",arc({innerRadius:rScatter(v),outerRadius:rScatter(v),startAngle:rad(c.a0),endAngle:rad(c.a1)})).attr("fill","none").attr("stroke","#cfe2de").attr("stroke-width",.9));
});
const dot=(ps,i,fill)=>ps.forEach(p=>{const q=d3.pointRadial(ang(chrs[i],p[0]),rScatter(readingToPercent(p[1])));
  G.append("circle").attr("cx",q[0]).attr("cy",q[1]).attr("r",2).attr("fill",fill);});
// layered so that red stays visible through the blue, as in the reference
blue5mC.forEach((a,i)=>{const ps=pairs(a),h=ps.length>>1; dot(ps.slice(h),i,"#4a6fe8");});
red5mC.forEach((a,i)=>dot(pairs(a),i,"#f0383c"));
blue5mC.forEach((a,i)=>{const ps=pairs(a),h=ps.length>>1; dot(ps.slice(0,h),i,"#4a6fe8");});
// a track segment follows the polar grid, so long flat runs bend with the ring instead of cutting a chord
const trk=(arr,rs,col,w)=>arr.forEach((a,i)=>{ if(!a.length)return;
  const c=chrs[i], pts=pairs(a), dAng=100/Math.max(1,(c.a1-c.a0)), path=[];
  pts.forEach((p,j)=>{ path.push(p); if(j<pts.length-1){const n=pts[j+1], st=Math.floor((n[0]-p[0])/dAng);
    for(let s=1;s<st;s++){const f=s/st; path.push([p[0]+(n[0]-p[0])*f,p[1]+(n[1]-p[1])*f]);}}});
  const line=d3.lineRadial().angle(p=>ang(c,p[0])).radius(p=>rs(p[1]));
  G.append("path").attr("d",line(path)).attr("fill","none").attr("stroke",col).attr("stroke-width",w);});
trk(greenTrack,rGreen,"#1f8a2a",1.6);
trk(dmrBlue,rDmr,"#6a78e2",1.5);
trk(dmrRed,rDmr,"#f04048",1.7);
chrs.forEach(c=>{
  ["green","scat","dmr"].forEach(k2=>G.append("path").attr("d",arc({innerRadius:RINGS[k2][0],outerRadius:RINGS[k2][1],startAngle:rad(c.a0),endAngle:rad(c.a1)})).attr("fill","none").attr("stroke","#4a2f2f").attr("stroke-width",1.3));
  const a=c.a0<200?c.a0+2:c.a1-3.2, q=d3.pointRadial(rad(a),231);
  G.append("text").attr("x",q[0]).attr("y",q[1]+4.5).attr("text-anchor","middle").attr("font-size",13).attr("fill","#111").text(c.n);
});
// small range axes in the gap
const ra=(ticks,rs,x)=>ticks.forEach(v=>{const y=-rs(v);
  G.append("line").attr("x1",x-3).attr("x2",x).attr("y1",y).attr("y2",y).attr("stroke","#444").attr("stroke-width",.6);
  G.append("text").attr("x",x+.8).attr("y",y+1.6).attr("font-size",4.6).attr("fill","#333").attr("font-weight","bold").text(v);});
ra(rangeTicksGreen,rGreen,-11);ra(rangeTicksScatter,rScatter,-5);

// legends
const wave=d3.line().x((d,i)=>660+i*1.7).y(d=>97-d).curve(d3.curveLinear);
svg.append("path").attr("d",wave(legendGreenWave)).attr("fill","none").attr("stroke","#2f9a35").attr("stroke-width",1.4);
txt("mean 5hmCpG percentage",692.5,97,{size:11.5,ls:.5});
svg.append("circle").attr("cx",676).attr("cy",109).attr("r",6.3).attr("fill","#f0282c");
svg.append("circle").attr("cx",676).attr("cy",125).attr("r",6.3).attr("fill","#4a6ee8");
txt("Δ5mCpG (H1 > H2)",692.5,112,{size:11.5,ls:.55});
txt("Δ5mCpG (H1 < H2)",692.5,128,{size:11.5,ls:.55});
[[110,"#f0383c","#f8a0a0"],[128,"#4a6ee8","#9cb0f0"]].forEach(l=>{
  svg.append("line").attr("x1",982).attr("x2",1017).attr("y1",l[0]-.5).attr("y2",l[0]-.5).attr("stroke",l[2]).attr("stroke-width",1.1);
  svg.append("path").attr("d",d3.line()([[994,l[0]],[1000,l[0]-15],[1006,l[0]]])+"Z").attr("fill",l[1]);
});
txt("DMR density (H1 > H2)",1017,108,{size:11.5,ls:.55});
txt("DMR density (H1 < H2)",1017,126,{size:11.5,ls:.55});
</script></body></html>
